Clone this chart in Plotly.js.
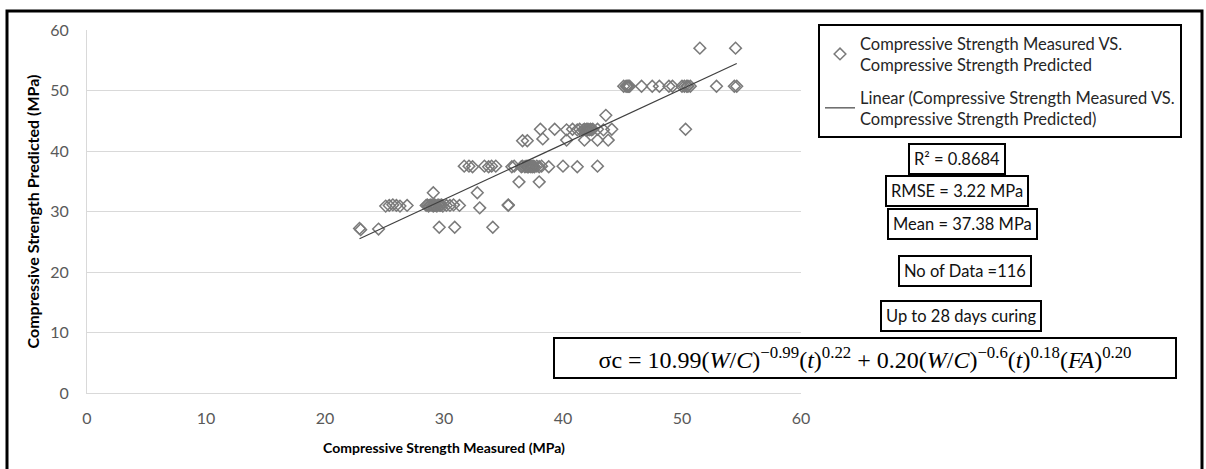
<!DOCTYPE html>
<html>
<head>
<meta charset="utf-8">
<script src="https://cdn.plot.ly/plotly-3.0.1.min.js"></script>
<style>html,body{margin:0;padding:0;background:#fff;}#chart{width:1206px;height:469px;}</style>
</head>
<body>
<div id="chart"></div>
<script>
// Compressive Strength Measured (MPa) - x values
const measured = [
  22.9, 23.0, 24.5, 29.6, 30.9, 34.1,
  25.1, 25.4, 25.7, 26.0, 26.3, 26.9,
  28.5, 28.6, 28.7, 28.8, 28.9, 29.0, 29.1, 29.2, 29.2, 29.3, 29.4, 29.5, 29.6, 29.7, 29.8, 29.9,
  30.2, 30.5, 30.8, 31.3, 33.0, 35.4, 35.4,
  29.1, 32.8,
  36.3, 38.0,
  31.7, 32.1, 32.4, 33.4, 33.75, 34.0, 34.35, 35.7, 35.9, 36.5, 36.6, 36.8, 36.9, 37.0, 37.05, 37.1, 37.2,
  37.3, 37.4, 37.45, 37.5, 37.6, 37.8, 38.0, 38.2, 38.8, 40.0, 41.2, 42.9,
  36.6, 37.0, 38.3, 40.3, 41.8, 42.9, 43.8,
  38.1, 39.3, 40.3, 40.8, 41.2, 41.4, 41.7, 41.8, 41.9, 42.0, 42.05, 42.1, 42.2, 42.3, 42.4, 42.5, 42.9, 43.4, 44.1,
  50.3,
  43.6,
  45.1, 45.3, 45.4, 45.5, 45.6, 46.6, 47.5, 48.1, 48.9, 49.2, 50.0, 50.2, 50.4, 50.5, 50.7, 52.9, 54.4, 54.6,
  51.5, 54.5
];
// Compressive Strength Predicted (MPa) - y values
const predicted = [
  27.2, 27.0, 27.1, 27.4, 27.4, 27.4,
  30.9, 31.0, 31.1, 31.0, 30.9, 31.0,
  31.0, 31.1, 30.9, 31.0, 31.1, 31.0, 30.9, 31.0, 31.1, 31.0, 30.9, 31.1, 31.0, 31.0, 31.1, 30.9,
  31.0, 31.0, 31.1, 31.0, 30.6, 31.1, 31.0,
  33.1, 33.1,
  34.9, 34.9,
  37.5, 37.5, 37.4, 37.5, 37.4, 37.5, 37.5, 37.4, 37.5, 37.4, 37.5, 37.4, 37.5, 37.4, 37.5, 37.4, 37.5,
  37.4, 37.5, 37.4, 37.5, 37.4, 37.5, 37.4, 37.5, 37.4, 37.5, 37.4, 37.5,
  41.7, 41.7, 42.0, 41.8, 41.8, 41.8, 41.8,
  43.6, 43.6, 43.5, 43.6, 43.5, 43.6, 43.5, 43.6, 43.5, 43.6, 43.5, 43.6, 43.5, 43.6, 43.5, 43.6, 43.6, 43.5, 43.6,
  43.6,
  45.9,
  50.7, 50.7, 50.7, 50.7, 50.7, 50.7, 50.7, 50.7, 50.7, 50.7, 50.7, 50.7, 50.7, 50.7, 50.7, 50.7, 50.7, 50.7,
  57.0, 57.0
];
const axisTicks = [0, 10, 20, 30, 40, 50, 60];
const statLabels = ["R\u00b2 = 0.8684", "RMSE = 3.22 MPa", "Mean = 37.38 MPa", "No of Data =116", "Up to 28 days curing"];
const equationText = "\u03c3c = 10.99(<i>W</i>/<i>C</i>)<sup>\u22120.99</sup>(<i>t</i>)<sup>0.22</sup> + 0.20(<i>W</i>/<i>C</i>)<sup>\u22120.6</sup>(<i>t</i>)<sup>0.18</sup>(<i>FA</i>)<sup>0.20</sup>";
const seriesName = "Compressive Strength Measured VS.<br>Compressive Strength Predicted";
const trendName = "Linear (Compressive Strength Measured VS.<br>Compressive Strength Predicted)";

// linear least-squares trendline (as Excel)
const n = measured.length;
let sx = 0, sy = 0, sxx = 0, sxy = 0;
for (let i = 0; i < n; i++) { sx += measured[i]; sy += predicted[i]; sxx += measured[i]*measured[i]; sxy += measured[i]*predicted[i]; }
const slope = (n*sxy - sx*sy) / (n*sxx - sx*sx);
const intercept = (sy - slope*sx) / n;
const xMin = Math.min(...measured), xMax = Math.max(...measured);
const trendX = [xMin, xMax];
const trendY = trendX.map(v => intercept + slope*v);

// layout geometry (pixels)
const W = 1206, H = 469, L = 87, R = 801, T = 30, B = 393;
const px = v => (v - L) / (R - L);
const py = v => (B - v) / (B - T);

const FONT = "Lato, 'Noto Sans', sans-serif";

const traces = [
  {
    x: measured, y: predicted, type: "scatter", mode: "markers", name: seriesName, legendgroup: "pts",
    marker: { symbol: "diamond-open", size: 9, color: "#7a7a7a", line: { width: 1.5, color: "#7a7a7a" } }
  },
  {
    x: trendX, y: trendY, type: "scatter", mode: "lines", name: trendName, legendgroup: "fit",
    line: { color: "#404040", width: 1.2 }
  }
];

const statCenters = [[957, 159], [957, 191], [962, 224], [965, 271], [961, 316]];
const annotations = statLabels.map((t, i) => ({
  text: t, xref: "paper", yref: "paper", x: px(statCenters[i][0]), y: py(statCenters[i][1]),
  xanchor: "center", yanchor: "middle", showarrow: false,
  font: { family: FONT, size: 16.5, color: "#111" },
  bordercolor: "#000", borderwidth: 2, borderpad: 4, bgcolor: "#fff"
}));
annotations.push({
  text: equationText, xref: "paper", yref: "paper", x: px(865), y: py(358),
  xanchor: "center", yanchor: "middle", showarrow: false, width: 612, align: "center",
  font: { family: "'Liberation Serif', 'DejaVu Serif', serif", size: 24, color: "#000" },
  bordercolor: "#000", borderwidth: 2, borderpad: 4, bgcolor: "#fff"
});

const layout = {
  width: W, height: H,
  margin: { l: L, r: W - R, t: T, b: H - B },
  paper_bgcolor: "#fff", plot_bgcolor: "#fff",
  font: { family: FONT, color: "#595959" },
  showlegend: true,
  legend: {
    x: px(818), y: py(24), xanchor: "left", yanchor: "top",
    bordercolor: "#000", borderwidth: 2, bgcolor: "#fff",
    font: { family: FONT, size: 16.5, color: "#262626" },
    tracegroupgap: 8, itemwidth: 30
  },
  xaxis: {
    range: [0, 60], tickvals: axisTicks, showgrid: false, zeroline: false,
    showline: true, linecolor: "#d9d9d9", linewidth: 1,
    ticks: "outside", ticklen: 11, tickcolor: "rgba(0,0,0,0)",
    tickfont: { family: FONT, size: 16, color: "#595959" },
    title: { text: "<b>Compressive Strength Measured (MPa)</b>", font: { family: FONT, size: 14, color: "#000" }, standoff: 16 }
  },
  yaxis: {
    range: [0, 60], tickvals: axisTicks, showgrid: true, gridcolor: "#d9d9d9", gridwidth: 1, zeroline: false,
    showline: true, linecolor: "#d9d9d9", linewidth: 1,
    ticks: "outside", ticklen: 14, tickcolor: "rgba(0,0,0,0)",
    tickfont: { family: FONT, size: 16, color: "#595959" },
    title: { text: "<b>Compressive Strength Predicted (MPa)</b>", font: { family: FONT, size: 16, color: "#000" }, standoff: 6 }
  },
  annotations: annotations,
  shapes: [{
    type: "rect", xref: "paper", yref: "paper", x0: px(7), x1: px(1202), y0: py(11), y1: py(480),
    line: { color: "#000", width: 3 }, fillcolor: "rgba(0,0,0,0)", layer: "above"
  }]
};

Plotly.newPlot("chart", traces, layout, { displayModeBar: false, staticPlot: true });
</script>
</body>
</html>
